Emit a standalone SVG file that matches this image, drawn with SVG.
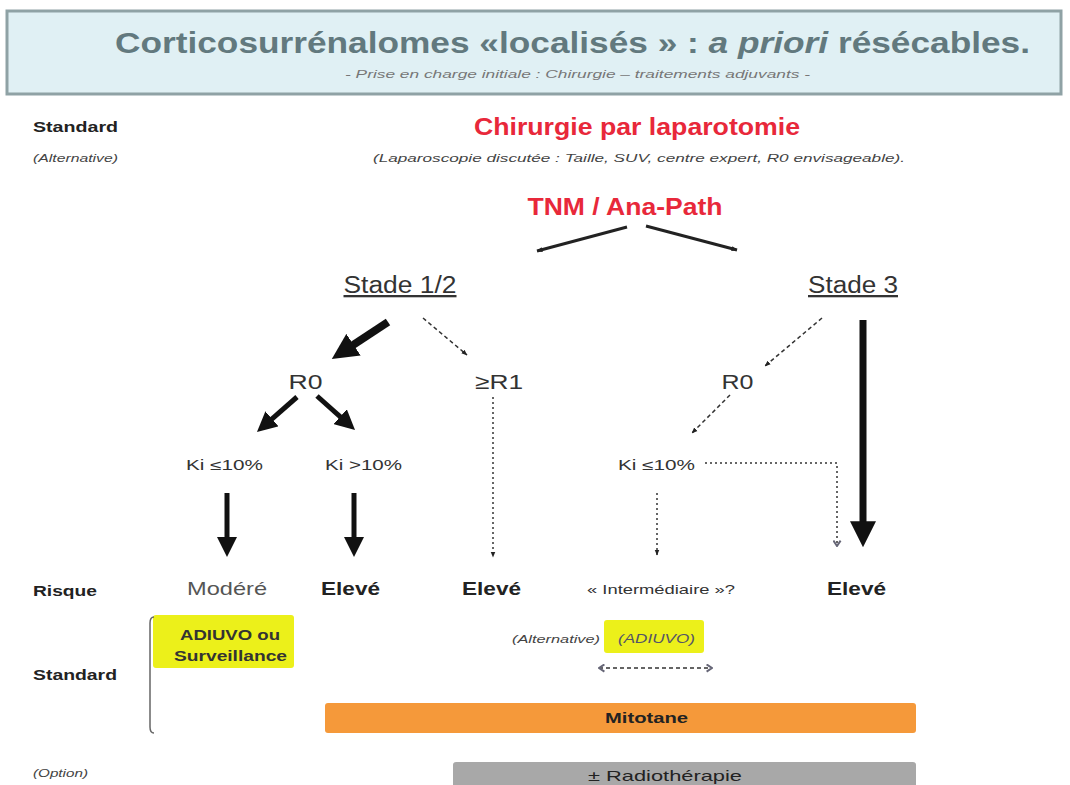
<svg xmlns="http://www.w3.org/2000/svg" width="1070" height="785" viewBox="0 0 1070 785">
<style>
text{font-family:"Liberation Sans",Arial,sans-serif;}
.lbl{font-size:15px;font-weight:bold;fill:#222;}
.alt{font-size:11px;font-style:italic;fill:#444;}
.red{font-size:24px;font-weight:bold;fill:#e8283a;}
.stade{font-size:23px;fill:#333;text-decoration:underline;}
.r{font-size:21px;fill:#333;}
.ki{font-size:14px;fill:#333;}
.risk{font-size:19px;fill:#222;font-weight:bold;}
.thick{stroke:#111;fill:none;}
.thin{stroke:#222;stroke-width:3;fill:none;}
.dash{stroke:#333;stroke-width:1.5;stroke-dasharray:4 3;fill:none;}
.dot{stroke:#333;stroke-width:1.5;stroke-dasharray:2 3;fill:none;}
</style>
<defs>
<marker id="big" viewBox="0 0 10 10" refX="3" refY="5" markerWidth="26" markerHeight="26" orient="auto" markerUnits="userSpaceOnUse"><path d="M0,0 L10,5 L0,10 Z" fill="#111"/></marker>
<marker id="mid" viewBox="0 0 10 10" refX="3" refY="5" markerWidth="20" markerHeight="20" orient="auto" markerUnits="userSpaceOnUse"><path d="M0,0 L10,5 L0,10 Z" fill="#111"/></marker>
<marker id="small" viewBox="0 0 10 10" refX="9" refY="5" markerWidth="6" markerHeight="6" orient="auto" markerUnits="userSpaceOnUse"><path d="M0,1 L10,5 L0,9 Z" fill="#222"/></marker>
<marker id="open" viewBox="0 0 10 10" refX="9" refY="5" markerWidth="9" markerHeight="9" orient="auto-start-reverse" markerUnits="userSpaceOnUse"><path d="M3,1 L9,5 L3,9" fill="none" stroke="#667" stroke-width="2.2"/></marker>
</defs>
<rect width="1070" height="785" fill="#fff"/>
<g id="header">
<rect x="7" y="11" width="1054" height="83" fill="#e0f0f4" stroke="#8fa2a5" stroke-width="3"/>
<text x="115" y="53" font-size="29" font-weight="bold" fill="#62797e" textLength="915" lengthAdjust="spacingAndGlyphs">Corticosurrénalomes «localisés » : <tspan font-style="italic">a priori</tspan> résécables.</text>
<text x="345" y="78" font-size="11" font-style="italic" fill="#777" textLength="465" lengthAdjust="spacingAndGlyphs">- Prise en charge initiale : Chirurgie – traitements adjuvants -</text>
</g>
<g id="row-labels">
<text x="33" y="132" class="lbl" textLength="85" lengthAdjust="spacingAndGlyphs">Standard</text>
<text x="33" y="162" class="alt" textLength="85" lengthAdjust="spacingAndGlyphs">(Alternative)</text>
<text x="33" y="596" class="lbl" textLength="64" lengthAdjust="spacingAndGlyphs">Risque</text>
<text x="33" y="680" class="lbl" textLength="84" lengthAdjust="spacingAndGlyphs">Standard</text>
<text x="33" y="777" class="alt" textLength="55" lengthAdjust="spacingAndGlyphs">(Option)</text>
</g>
<g id="chirurgie">
<text x="637" y="135" text-anchor="middle" class="red" textLength="326" lengthAdjust="spacingAndGlyphs">Chirurgie par laparotomie</text>
<text x="639" y="162" text-anchor="middle" class="alt" textLength="532" lengthAdjust="spacingAndGlyphs">(Laparoscopie discutée : Taille, SUV, centre expert, R0 envisageable).</text>
</g>
<g id="tnm"><text x="625" y="215" text-anchor="middle" class="red" textLength="195" lengthAdjust="spacingAndGlyphs">TNM / Ana-Path</text></g>
<g id="stade12"><text x="400" y="293" text-anchor="middle" class="stade" textLength="113" lengthAdjust="spacingAndGlyphs">Stade 1/2</text></g>
<g id="stade3"><text x="853" y="293" text-anchor="middle" class="stade" textLength="90" lengthAdjust="spacingAndGlyphs">Stade 3</text></g>
<g id="r0-left"><text x="305.5" y="389" text-anchor="middle" class="r" textLength="34" lengthAdjust="spacingAndGlyphs">R0</text></g>
<g id="r1"><text x="499" y="389" text-anchor="middle" class="r" textLength="48" lengthAdjust="spacingAndGlyphs">≥R1</text></g>
<g id="r0-right"><text x="737.5" y="389" text-anchor="middle" class="r" textLength="32" lengthAdjust="spacingAndGlyphs">R0</text></g>
<g id="ki-low-left"><text x="224.5" y="470" text-anchor="middle" class="ki" textLength="77" lengthAdjust="spacingAndGlyphs">Ki ≤10%</text></g>
<g id="ki-high"><text x="363.5" y="470" text-anchor="middle" class="ki" textLength="77" lengthAdjust="spacingAndGlyphs">Ki &gt;10%</text></g>
<g id="ki-low-right"><text x="656.5" y="470" text-anchor="middle" class="ki" textLength="77" lengthAdjust="spacingAndGlyphs">Ki ≤10%</text></g>
<g id="modere"><text x="227" y="595" text-anchor="middle" font-size="19" fill="#555" textLength="80" lengthAdjust="spacingAndGlyphs">Modéré</text></g>
<g id="eleve1"><text x="350.5" y="595" text-anchor="middle" class="risk" textLength="59" lengthAdjust="spacingAndGlyphs">Elevé</text></g>
<g id="eleve2"><text x="491.5" y="595" text-anchor="middle" class="risk" textLength="59" lengthAdjust="spacingAndGlyphs">Elevé</text></g>
<g id="intermediaire"><text x="661" y="594" text-anchor="middle" font-size="13" fill="#333" textLength="148" lengthAdjust="spacingAndGlyphs">« Intermédiaire »?</text></g>
<g id="eleve3"><text x="856.5" y="595" text-anchor="middle" class="risk" textLength="59" lengthAdjust="spacingAndGlyphs">Elevé</text></g>
<g id="adiuvo-surv">
<rect x="153" y="615" width="141" height="53" rx="3" fill="#ecf01a"/>
<text x="230" y="640" text-anchor="middle" font-size="14" font-weight="bold" fill="#333" textLength="100" lengthAdjust="spacingAndGlyphs">ADIUVO ou</text>
<text x="230.5" y="661" text-anchor="middle" font-size="14" font-weight="bold" fill="#333" textLength="113" lengthAdjust="spacingAndGlyphs">Surveillance</text>
</g>
<g id="adiuvo-alt">
<text x="512" y="643" class="alt" textLength="88" lengthAdjust="spacingAndGlyphs">(Alternative)</text>
<rect x="604" y="620" width="100" height="33" rx="3" fill="#ecf01a"/>
<text x="656.5" y="643" text-anchor="middle" font-size="12" font-style="italic" fill="#556" textLength="77" lengthAdjust="spacingAndGlyphs">(ADIUVO)</text>
</g>
<g id="mitotane">
<rect x="325" y="703" width="591" height="30" rx="3" fill="#f5993a"/>
<text x="646.5" y="723" text-anchor="middle" font-size="14" font-weight="bold" fill="#222" textLength="83" lengthAdjust="spacingAndGlyphs">Mitotane</text>
</g>
<g id="radio">
<rect x="453" y="762" width="463" height="30" rx="3" fill="#a8a8a8"/>
<text x="665" y="781" text-anchor="middle" font-size="15" fill="#222" textLength="154" lengthAdjust="spacingAndGlyphs">± Radiothérapie</text>
</g>
<g id="connectors">
<line x1="627" y1="227" x2="537" y2="251" class="thin" marker-end="url(#small)"/>
<line x1="646" y1="226" x2="737" y2="250" class="thin" marker-end="url(#small)"/>
<line x1="388" y1="322" x2="347" y2="349" class="thick" stroke-width="8" marker-end="url(#big)"/>
<line x1="423" y1="318" x2="467" y2="355" class="dash" marker-end="url(#small)"/>
<line x1="297" y1="397" x2="267.5" y2="422.8" class="thick" stroke-width="5" marker-end="url(#mid)"/>
<line x1="317" y1="396" x2="344.6" y2="420.7" class="thick" stroke-width="5" marker-end="url(#mid)"/>
<line x1="227" y1="493" x2="227" y2="543" class="thick" stroke-width="5" marker-end="url(#mid)"/>
<line x1="354" y1="493" x2="354" y2="543" class="thick" stroke-width="5" marker-end="url(#mid)"/>
<line x1="493" y1="397" x2="493" y2="557" class="dot" marker-end="url(#small)"/>
<line x1="822" y1="318" x2="765" y2="366" class="dash" marker-end="url(#small)"/>
<line x1="730" y1="395" x2="692" y2="433" class="dash" marker-end="url(#small)"/>
<polyline points="705,463 837,463 837,546" class="dot" marker-end="url(#open)"/>
<line x1="657" y1="493" x2="657" y2="555" class="dot" marker-end="url(#small)"/>
<line x1="863" y1="320" x2="863" y2="529" class="thick" stroke-width="7" marker-end="url(#big)"/>
<line x1="599" y1="668" x2="712" y2="668" class="dash" stroke="#556" marker-start="url(#open)" marker-end="url(#open)"/>
<path d="M154,617 Q150,617 150,623 L150,727 Q150,733 154,733" fill="none" stroke="#666" stroke-width="1.5"/>
</g>
</svg>
